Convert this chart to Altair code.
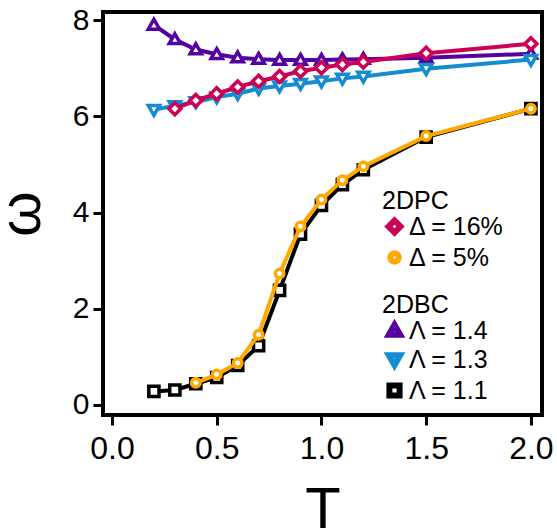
import altair as alt
import pandas as pd

FONT = "Liberation Sans"

# ---- data ----
T_pc16 = [0.3, 0.4, 0.5, 0.6, 0.7, 0.8, 0.9, 1.0, 1.1, 1.2, 1.5, 2.0]
w_pc16 = [6.16, 6.33, 6.47, 6.61, 6.73, 6.83, 6.94, 7.01, 7.08, 7.13, 7.31, 7.51]

T_pc5 = [0.4, 0.5, 0.6, 0.7, 0.8, 0.9, 1.0, 1.1, 1.2, 1.5, 2.0]
w_pc5 = [0.46, 0.63, 0.87, 1.46, 2.73, 3.71, 4.27, 4.67, 4.96, 5.59, 6.16]

T_bc14 = [0.2, 0.3, 0.4, 0.5, 0.6, 0.7, 0.8, 0.9, 1.0, 1.1, 1.2, 1.5, 2.0]
w_bc14 = [7.90, 7.60, 7.39, 7.29, 7.22, 7.19, 7.17, 7.17, 7.17, 7.18, 7.19, 7.22, 7.30]

T_bc13 = [0.2, 0.3, 0.4, 0.5, 0.6, 0.7, 0.8, 0.9, 1.0, 1.1, 1.2, 1.5, 2.0]
w_bc13 = [6.14, 6.22, 6.30, 6.40, 6.47, 6.58, 6.63, 6.68, 6.73, 6.79, 6.83, 6.99, 7.18]

T_bc11 = [0.2, 0.3, 0.4, 0.5, 0.6, 0.7, 0.8, 0.9, 1.0, 1.1, 1.2, 1.5, 2.0]
w_bc11 = [0.28, 0.31, 0.44, 0.57, 0.82, 1.23, 2.38, 3.55, 4.15, 4.58, 4.89, 5.57, 6.16]

pc_labels = ["Δ = 16%", "Δ = 5%"]
pc_colors = ["#CC0055", "#FFA800"]
bc_labels = ["Λ = 1.4", "Λ = 1.3", "Λ = 1.1"]
bc_colors = ["#5500A0", "#148CD2", "#000000"]

# marker outlines (unit box paths; all drawn at the same symbol size)
DIAMOND = "M-0.85,0L0,-0.85L0.85,0L0,0.85Z"
CIRCLE = "M-0.6,0A0.6,0.6,0,1,1,0.6,0A0.6,0.6,0,1,1,-0.6,0Z"
TRI_UP = "M0,-0.8L0.8,0.586L-0.8,0.586Z"
TRI_DOWN = "M0,0.8L0.8,-0.586L-0.8,-0.586Z"
SQUARE = "M-0.72,-0.72L0.72,-0.72L0.72,0.72L-0.72,0.72Z"
pc_shapes = [DIAMOND, CIRCLE]
bc_shapes = [TRI_UP, TRI_DOWN, SQUARE]
SYM_SIZE = 200

x_ticks = [0.0, 0.5, 1.0, 1.5, 2.0]
y_ticks = [0, 2, 4, 6, 8]

xscale = alt.Scale(domain=[-0.043, 2.053], nice=False, zero=False)
yscale = alt.Scale(domain=[-0.21, 8.17], nice=False, zero=False)

xaxis = alt.Axis(values=x_ticks, format=".1f", title="T", grid=False, domain=False,
                 tickSize=10, tickWidth=3, tickColor="black",
                 labelFont=FONT, labelFontSize=32, labelColor="black", labelPadding=8,
                 titleFont=FONT, titleFontSize=58, titleFontWeight="normal", titleColor="black",
                 titleBaseline="alphabetic", titleY=112)
yaxis = alt.Axis(values=y_ticks, format="d", title="ω", grid=False, domain=False,
                 tickSize=10, tickWidth=3, tickColor="black",
                 labelFont=FONT, labelFontSize=30, labelColor="black", labelPadding=4,
                 titleFont=FONT, titleFontSize=58, titleFontWeight="normal", titleColor="black",
                 titleBaseline="alphabetic", titleX=-64)


def group(series, field, labels, colors, shapes, title, lx, ly):
    legend = alt.Legend(title=title, orient="none", legendX=lx, legendY=ly,
                        titleFont=FONT, titleFontSize=25, titleFontWeight="normal",
                        titleColor="black", titlePadding=0,
                        labelFont=FONT, labelFontSize=25, labelColor="black",
                        labelOffset=2, rowPadding=-10, symbolStrokeWidth=6)
    layers = []
    for i, (T, w) in enumerate(series):
        df = pd.DataFrame({"T": T, "w": w, field: labels[i]})
        base = alt.Chart(df).encode(
            x=alt.X("T:Q", scale=xscale, axis=xaxis),
            y=alt.Y("w:Q", scale=yscale, axis=yaxis),
        )
        line = base.mark_line(strokeWidth=4).encode(color=alt.value(colors[i]))
        pts = base.mark_point(filled=False, fill="white", strokeWidth=3.5, opacity=1,
                              size=SYM_SIZE).encode(
            color=alt.Color(f"{field}:N", scale=alt.Scale(domain=labels, range=colors), legend=legend),
            shape=alt.Shape(f"{field}:N", scale=alt.Scale(domain=labels, range=shapes), legend=legend),
        )
        layers += [line, pts]
    return alt.layer(*layers)


bc = group([(T_bc14, w_bc14), (T_bc13, w_bc13), (T_bc11, w_bc11)],
           "bc", bc_labels, bc_colors, bc_shapes, "2DBC", 279, 281)
pc = group([(T_pc16, w_pc16), (T_pc5, w_pc5)],
           "pc", pc_labels, pc_colors, pc_shapes, "2DPC", 279, 177)

chart = alt.layer(bc, pc).resolve_scale(
    color="independent", shape="independent"
).properties(
    width=439, height=403,
    autosize=alt.AutoSizeParams(type="none"),
    padding={"left": 103, "top": 12, "right": 15, "bottom": 115},
).configure_view(stroke="black", strokeWidth=4).configure_legend(symbolSize=SYM_SIZE)

chart.save("out.html", embed_options={"renderer": "svg", "actions": False})
